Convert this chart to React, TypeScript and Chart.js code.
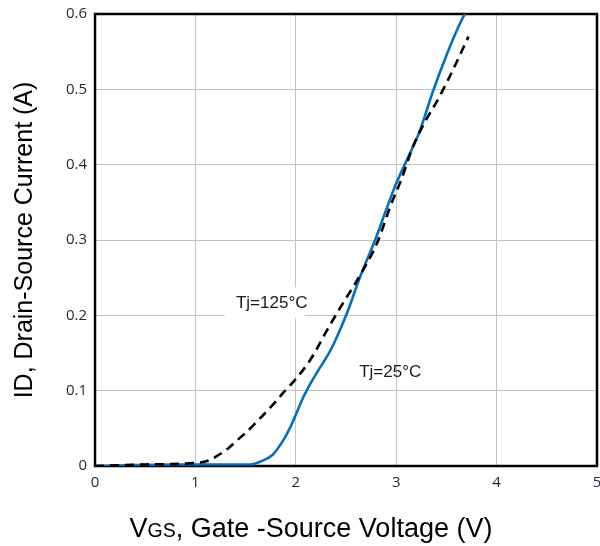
import React, { useEffect, useRef } from "react";
import { Chart, registerables } from "chart.js";

Chart.register(...registerables);

// Tj = 25°C (solid blue)
const vgs25 = [0, 0.3, 0.8, 1.3, 1.55, 1.65, 1.77, 1.87, 1.94, 2.0, 2.07, 2.14, 2.21, 2.3, 2.37, 2.51, 2.64, 2.79, 2.9, 3.0, 3.12, 3.23, 3.36, 3.5, 3.62, 3.72];
const id25 = [0, 0.001, 0.002, 0.002, 0.002, 0.006, 0.015, 0.033, 0.05, 0.068, 0.09, 0.108, 0.124, 0.143, 0.16, 0.203, 0.251, 0.3, 0.34, 0.375, 0.41, 0.443, 0.495, 0.545, 0.583, 0.61];

// Tj = 125°C (dashed black)
const vgs125 = [0, 0.5, 1.0, 1.1, 1.2, 1.34, 1.44, 1.51, 1.62, 1.77, 1.88, 1.99, 2.14, 2.31, 2.41, 2.67, 2.81, 2.94, 3.05, 3.17, 3.3, 3.43, 3.58, 3.72];
const id125 = [0, 0.002, 0.004, 0.006, 0.012, 0.025, 0.037, 0.045, 0.06, 0.081, 0.098, 0.114, 0.14, 0.18, 0.203, 0.26, 0.296, 0.344, 0.38, 0.425, 0.46, 0.49, 0.53, 0.57];

const xTicks = [0, 1, 2, 3, 4, 5];
const yTicks = [0, 0.1, 0.2, 0.3, 0.4, 0.5, 0.6];

const labelTexts = ["Tj=125°C", "Tj=25°C"];
const labelVgs = [1.76, 2.94];
const labelId = [0.216, 0.125];

const toPts = (xs: number[], ys: number[]) => xs.map((x, i) => ({ x, y: ys[i] }));

export default function App() {
  const ref = useRef<HTMLCanvasElement | null>(null);

  useEffect(() => {
    document.body.style.margin = "0";
    const canvas = ref.current!;
    const framePlugin = {
      id: "frameAndLabels",
      beforeDatasetsDraw(chart: any) {
        const { ctx, chartArea: a, scales } = chart;
        ctx.save();
        const cx = scales.x.getPixelForValue(labelVgs[0]);
        const cy = scales.y.getPixelForValue(labelId[0]);
        ctx.fillStyle = "#ffffff";
        ctx.fillRect(cx - 47, cy - 16, 80, 31);
        ctx.strokeStyle = "#000000";
        ctx.lineWidth = 2.5;
        ctx.strokeRect(a.left, a.top, a.right - a.left, a.bottom - a.top);
        ctx.restore();
      },
      afterDraw(chart: any) {
        const { ctx, scales, chartArea: a } = chart;
        ctx.save();
        ctx.fillStyle = "#1a1a1a";
        ctx.textAlign = "center";
        ctx.textBaseline = "middle";
        ctx.font = '17px "Liberation Sans", Arial, sans-serif';
        labelTexts.forEach((t, i) => {
          ctx.fillText(t, scales.x.getPixelForValue(labelVgs[i]), scales.y.getPixelForValue(labelId[i]));
        });
        ctx.fillStyle = "#000000";
        ctx.save();
        ctx.translate(25, (a.top + a.bottom) / 2);
        ctx.rotate(-Math.PI / 2);
        ctx.font = '25px "Liberation Sans", Arial, sans-serif';
        ctx.textBaseline = "middle";
        ctx.fillText("ID, Drain-Source Current (A)", 0, 0);
        ctx.restore();
        const big = '27px "Liberation Sans", Arial, sans-serif';
        const small = '19.5px "Liberation Sans", Arial, sans-serif';
        const parts = [
          { t: "V", f: big },
          { t: "GS", f: small },
          { t: ", Gate -Source Voltage (V)", f: big },
        ];
        let total = 0;
        parts.forEach((p) => {
          ctx.font = p.f;
          total += ctx.measureText(p.t).width;
        });
        let x = 311 - total / 2;
        ctx.textAlign = "left";
        ctx.textBaseline = "alphabetic";
        parts.forEach((p) => {
          ctx.font = p.f;
          ctx.fillText(p.t, x, 537);
          x += ctx.measureText(p.t).width;
        });
        ctx.restore();
      },
    };

    const tickFont = { family: '"Open Sans", sans-serif', size: 15 };
    const chart = new Chart(canvas, {
      type: "line",
      data: {
        datasets: [
          {
            label: "Tj=125°C",
            data: toPts(vgs125, id125),
            borderColor: "#000000",
            borderWidth: 2.6,
            borderDash: [9, 6],
            pointRadius: 0,
            cubicInterpolationMode: "monotone",
            fill: false,
          },
          {
            label: "Tj=25°C",
            data: toPts(vgs25, id25),
            borderColor: "#0070C0",
            borderWidth: 2.6,
            pointRadius: 0,
            cubicInterpolationMode: "monotone",
            fill: false,
          },
        ],
      },
      options: {
        animation: false,
        responsive: false,
        events: [],
        layout: { padding: { left: 0, right: 3, top: 14, bottom: 0 } },
        plugins: { legend: { display: false }, tooltip: { enabled: false } },
        scales: {
          x: {
            type: "linear",
            min: 0,
            max: 5,
            afterFit(s: any) {
              s.height = 80;
              s.paddingLeft = 0;
              s.paddingRight = 0;
            },
            afterBuildTicks(s: any) {
              s.ticks = xTicks.map((v) => ({ value: v }));
            },
            grid: { color: "#c3c3c3", lineWidth: 1, drawTicks: false },
            border: { display: false },
            ticks: {
              padding: 8,
              color: "#222a38",
              font: tickFont,
              callback: (v: any) => String(v),
            },
          },
          y: {
            type: "linear",
            min: 0,
            max: 0.6,
            afterFit(s: any) {
              s.width = 95;
              s.paddingTop = 0;
              s.paddingBottom = 0;
            },
            afterBuildTicks(s: any) {
              s.ticks = yTicks.map((v) => ({ value: v }));
            },
            grid: { color: "#c3c3c3", lineWidth: 1, drawTicks: false },
            border: { display: false },
            ticks: {
              padding: 8,
              color: "#222a38",
              font: tickFont,
              callback: (v: any) => (v === 0 ? "0" : Number(v).toFixed(1)),
            },
          },
        },
      },
      plugins: [framePlugin],
    });
    return () => chart.destroy();
  }, []);

  return (
    <div style={{ width: 600, height: 546, background: "#fff" }}>
      <canvas ref={ref} width={600} height={546} style={{ display: "block" }} />
    </div>
  );
}
